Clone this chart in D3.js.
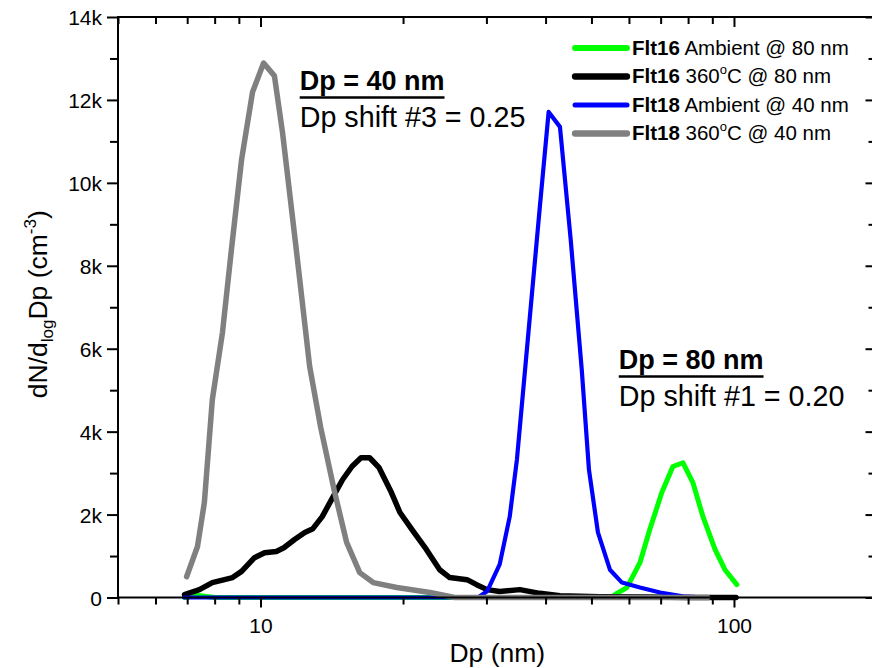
<!DOCTYPE html>
<html>
<head>
<meta charset="utf-8">
<script src="https://cdn.jsdelivr.net/npm/d3@7"></script>
<style>
  html, body { margin: 0; padding: 0; background: #fff; }
  svg { display: block; font-family: "Liberation Sans", Arial, sans-serif; }
</style>
</head>
<body>
<svg id="chart" width="872" height="668"></svg>
<script>
// ---------------- data ----------------
const seriesNames = ["Flt16 Ambient @ 80 nm", "Flt16 360°C @ 80 nm", "Flt18 Ambient @ 40 nm", "Flt18 360°C @ 40 nm"];
const seriesColors = ["#00ff00", "#000000", "#0000ff", "#808080"];

const flt16AmbDp  = [6.9, 7.4, 8.0, 10, 20, 40, 55, 56.6, 59.4, 63.3, 66.4, 70.4, 74.3, 78.0, 81.9, 86.0, 91.2, 95.7, 101.4];
const flt16AmbVal = [0, 50, 0, 0, 0, 0, 0, 100, 240, 840, 1640, 2530, 3160, 3250, 2770, 1950, 1160, 670, 310];

const flt16HotDp  = [6.91, 7.43, 7.91, 8.73, 9.12, 9.71, 10.2, 10.8, 11.2, 11.8, 12.4, 12.9, 13.5, 14.2, 14.9, 15.6, 16.3, 17.0, 17.8, 18.9, 19.7, 21.0, 22.4, 23.9, 25.1, 27.3, 28.6, 30.1, 32.0, 35.3, 38.9, 42.9, 52, 66, 80, 101];
const flt16HotVal = [70, 190, 360, 480, 630, 960, 1080, 1110, 1200, 1400, 1570, 1660, 1950, 2410, 2840, 3160, 3370, 3370, 3130, 2530, 2050, 1600, 1160, 670, 480, 430, 310, 190, 145, 190, 100, 40, 20, 10, 0, 0];

const flt18AmbDp  = [6.9, 10, 15, 20, 25, 28.8, 30.1, 32.0, 33.6, 34.8, 36.7, 38.9, 40.6, 42.9, 45.2, 47.7, 49.4, 51.6, 54.7, 58.0, 63.3, 69.8, 78, 87.7];
const flt18AmbVal = [0, 0, 0, 0, 0, 0, 150, 800, 1950, 3330, 6240, 9420, 11710, 11350, 8630, 5490, 3080, 1570, 670, 360, 240, 120, 30, 0];

const flt18HotDp  = [6.98, 7.36, 7.61, 7.91, 8.31, 8.68, 9.12, 9.62, 10.15, 10.7, 11.13, 11.9, 12.7, 13.4, 14.3, 15.2, 16.2, 17.3, 19.4, 22.8, 25.7, 30, 40, 50, 60, 70, 80, 88];
const flt18HotVal = [500, 1230, 2290, 4770, 6390, 8390, 10560, 12190, 12890, 12580, 11210, 8390, 5570, 4100, 2600, 1330, 600, 360, 240, 120, 0, 0, 0, 0, 0, 0, 0, 0];

const xTickLabels = [10, 100];
const xMinorTicks = [5, 6, 7, 8, 9, 20, 30, 40, 50, 60, 70, 80, 90, 200];
const yMajorTicks = [0, 2000, 4000, 6000, 8000, 10000, 12000, 14000];
const yMinorTicks = [1000, 3000, 5000, 7000, 9000, 11000, 13000];

const annotations = [
  { title: "Dp = 40 nm", sub: "Dp shift #3 = 0.25", dp: 12.1, val: 12230 },
  { title: "Dp = 80 nm", sub: "Dp shift #1 = 0.20", dp: 57.1, val: 5500 }
];

// ---------------- layout ----------------
const svg = d3.select("#chart");
const L = 118, R = 876.5, T = 17, B = 597.5;
const x = d3.scaleLog().domain([5, 200]).range([L, R]);
const y = d3.scaleLinear().domain([0, 14000]).range([B, T]);

const series = [
  { dp: flt16AmbDp, val: flt16AmbVal, w: 5 },
  { dp: flt16HotDp, val: flt16HotVal, w: 5.5 },
  { dp: flt18AmbDp, val: flt18AmbVal, w: 4.2 },
  { dp: flt18HotDp, val: flt18HotVal, w: 5.5 }
];

// ---------------- curves ----------------
const line = d3.line().x(d => x(d[0])).y(d => y(d[1]));
series.forEach((s, i) => {
  const pts = s.dp.map((d, k) => [d, s.val[k]]);
  svg.append("path")
    .attr("d", line(pts))
    .attr("fill", "none")
    .attr("stroke", seriesColors[i])
    .attr("stroke-width", s.w)
    .attr("stroke-linejoin", "round")
    .attr("stroke-linecap", "round");
});

// ---------------- axes ----------------
const fmtK = v => v === 0 ? "0" : (v / 1000) + "k";

function styleAxis(g) {
  g.select(".domain").remove();
  g.selectAll("line").attr("stroke", "#000").attr("stroke-width", 2);
  g.selectAll("text").attr("fill", "#000").style("font-size", "21px");
}

// left
svg.append("g").attr("transform", `translate(${L},0)`)
  .call(d3.axisLeft(y).tickValues(yMajorTicks).tickFormat(fmtK).tickSize(11).tickPadding(5))
  .call(styleAxis).call(g => g.selectAll("text").attr("dy", "0.36em"));
svg.append("g").attr("transform", `translate(${L},0)`)
  .call(d3.axisLeft(y).tickValues(yMinorTicks).tickFormat("").tickSize(8))
  .call(styleAxis);
// right (inward)
svg.append("g").attr("transform", `translate(${R},0)`)
  .call(d3.axisRight(y).tickValues(yMajorTicks).tickFormat("").tickSize(-11))
  .call(styleAxis);
svg.append("g").attr("transform", `translate(${R},0)`)
  .call(d3.axisRight(y).tickValues(yMinorTicks).tickFormat("").tickSize(-8))
  .call(styleAxis);
// bottom
svg.append("g").attr("transform", `translate(0,${B})`)
  .call(d3.axisBottom(x).tickValues(xTickLabels).tickFormat(d3.format("d")).tickSize(10).tickPadding(11))
  .call(styleAxis);
svg.append("g").attr("transform", `translate(0,${B})`)
  .call(d3.axisBottom(x).tickValues(xMinorTicks).tickFormat("").tickSize(7))
  .call(styleAxis);
// top (inward)
svg.append("g").attr("transform", `translate(0,${T})`)
  .call(d3.axisTop(x).tickValues(xTickLabels).tickFormat("").tickSize(-10))
  .call(styleAxis);
svg.append("g").attr("transform", `translate(0,${T})`)
  .call(d3.axisTop(x).tickValues(xMinorTicks).tickFormat("").tickSize(-7))
  .call(styleAxis);

// frame
svg.append("rect").attr("x", L).attr("y", T).attr("width", R - L).attr("height", B - T)
  .attr("fill", "none").attr("stroke", "#000").attr("stroke-width", 2);

// axis titles
svg.append("text").attr("x", (L + R) / 2).attr("y", 662)
  .attr("text-anchor", "middle").style("font-size", "26.5px").text("Dp (nm)");

const yt = svg.append("text")
  .attr("transform", `translate(47,${(T + B) / 2 - 3}) rotate(-90)`)
  .attr("text-anchor", "middle").style("font-size", "26.5px");
yt.append("tspan").text("dN/d");
yt.append("tspan").attr("dy", 6).style("font-size", "17px").text("log");
yt.append("tspan").attr("dy", -6).text("Dp (cm");
yt.append("tspan").attr("dy", -11).style("font-size", "17px").text("-3");
yt.append("tspan").attr("dy", 11).text(")");

// ---------------- legend ----------------
const legX = 575, legY0 = 48, legDY = 28.5;
seriesNames.forEach((name, i) => {
  const yy = legY0 + i * legDY;
  svg.append("line").attr("x1", legX).attr("x2", legX + 52).attr("y1", yy).attr("y2", yy)
    .attr("stroke", seriesColors[i]).attr("stroke-width", series[i].w + 0.8).attr("stroke-linecap", "round");
  const t = svg.append("text").attr("x", legX + 57).attr("y", yy + 6.8).style("font-size", "20.5px");
  const parts = name.split(" ");
  t.append("tspan").style("font-weight", "bold").text(parts[0]);
  const rest = " " + parts.slice(1).join(" ");
  if (rest.includes("°C")) {
    const [a, b] = rest.split("°C");
    t.append("tspan").text(a);
    t.append("tspan").attr("dy", -9).style("font-size", "13px").text("o");
    t.append("tspan").attr("dy", 9).text("C" + b);
  } else {
    t.append("tspan").text(rest);
  }
});

// ---------------- annotations ----------------
annotations.forEach(a => {
  const ax = x(a.dp), ay = y(a.val);
  const tt = svg.append("text").attr("x", ax).attr("y", ay)
    .style("font-size", "27px").style("font-weight", "bold").text(a.title);
  const w = tt.node().getComputedTextLength();
  svg.append("line").attr("x1", ax).attr("x2", ax + w).attr("y1", ay + 7).attr("y2", ay + 7)
    .attr("stroke", "#000").attr("stroke-width", 2.5);
  svg.append("text").attr("x", ax).attr("y", ay + 36.5)
    .style("font-size", "28.7px").text(a.sub);
});
</script>
</body>
</html>
